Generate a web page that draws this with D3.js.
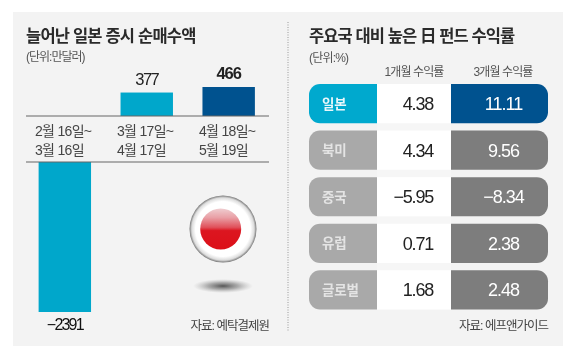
<!DOCTYPE html>
<html><head><meta charset="utf-8">
<script src="https://cdn.jsdelivr.net/npm/d3@7"></script>
<style>
html,body{margin:0;padding:0;background:#fff}
svg{display:block;filter:blur(0.5px)}
text{font-family:"Liberation Sans","Noto Sans CJK KR",sans-serif}
</style></head><body>
<svg id="c" width="580" height="361"></svg>
<script>
const periods = [["2월 16일~","3월 16일"],["3월 17일~","4월 17일"],["4월 18일~","5월 19일"]];
const flows = [-2391, 377, 466];
const flowColors = ["#00a7cb","#00a7cb","#00528f"];
const regions = ["일본","북미","중국","유럽","글로벌"];
const oneMonth = ["4.38","4.34","−5.95","0.71","1.68"];
const threeMonth = ["11.11","9.56","−8.34","2.38","2.48"];
const tableHeaders = ["1개월 수익률","3개월 수익률"];

const svg = d3.select("#c");
const defs = svg.append("defs");
const g1 = defs.append("radialGradient").attr("id","ring").attr("cx","50%").attr("cy","50%").attr("r","50%");
[[0,"#fff"],[0.82,"#fff"],[0.93,"#dcdcdc"],[1,"#777"]].forEach(d=>g1.append("stop").attr("offset",d[0]).attr("stop-color",d[1]));
const g2 = defs.append("linearGradient").attr("id","red").attr("x1",0).attr("x2",0).attr("y1",0).attr("y2",1);
[[0,"#efcdd0"],[0.22,"#e9a0a6"],[0.46,"#e0505a"],[0.54,"#dc1620"],[1,"#dc1018"]].forEach(d=>g2.append("stop").attr("offset",d[0]).attr("stop-color",d[1]));
const g3 = defs.append("radialGradient").attr("id","shadow");
[[0,"#555",1],[0.5,"#999",0.8],[1,"#bbb",0]].forEach(d=>g3.append("stop").attr("offset",d[0]).attr("stop-color",d[1]).attr("stop-opacity",d[2]));

svg.append("rect").attr("x",13).attr("y",12).attr("width",550).attr("height",334).attr("fill","#f3f3f3");
svg.append("line").attr("x1",288).attr("x2",288).attr("y1",22).attr("y2",332)
  .attr("stroke","#999").attr("stroke-width",1).attr("stroke-dasharray","1 1.5");

const txt=(x,y,s,size,o={})=>svg.append("text").attr("x",x).attr("y",y).text(s)
  .attr("font-size",size).attr("fill",o.fill||"#333").attr("font-weight",o.w||400)
  .attr("text-anchor",o.a||"start").style("letter-spacing",o.ls||null);

// left panel
txt(26,42,"늘어난 일본 증시 순매수액",16.5,{w:700,fill:"#2a2a2a",ls:"-0.8px"});
txt(26,61,"(단위:만달러)",12,{fill:"#555",ls:"-1px"});

const xBar = d3.scaleBand().domain(d3.range(flows.length)).range([25.5,268]).paddingInner(0.36).paddingOuter(0.16);
const yPos = d3.scaleLinear().domain([0,466]).range([116,87]);
const yNeg = d3.scaleLinear().domain([0,-2391]).range([162,312]);
const labelX = [35,117,199];

flows.forEach((v,i)=>{
  const top = v>=0 ? yPos(v) : yNeg(0);
  const h = v>=0 ? yPos(0)-yPos(v) : yNeg(v)-yNeg(0);
  svg.append("rect").attr("x",xBar(i)).attr("y",top).attr("width",xBar.bandwidth()).attr("height",h).attr("fill",flowColors[i]);
  const cx = xBar(i)+xBar.bandwidth()/2;
  if(v>=0) txt(cx,top-8,String(v),16.5,{a:"middle",w:i===2?700:400,fill:"#222",ls:i===2?"-1px":"-1.5px"});
  else txt(cx,yNeg(v)+18,"−"+Math.abs(v),16,{a:"middle",w:400,fill:"#111",ls:"-1.8px"});
  txt(labelX[i],136,periods[i][0],14,{fill:"#444",ls:"-0.7px"});
  txt(labelX[i],155,periods[i][1],14,{fill:"#444",ls:"-0.7px"});
});
[116,162].forEach(y=>svg.append("line").attr("x1",26).attr("x2",269).attr("y1",y).attr("y2",y).attr("stroke","#666").attr("stroke-width",1.2));

// flag
svg.append("circle").attr("cx",223).attr("cy",229).attr("r",33.5).attr("fill","url(#ring)");
svg.append("circle").attr("cx",220.7).attr("cy",229).attr("r",20.5).attr("fill","url(#red)");
svg.append("ellipse").attr("cx",223).attr("cy",286).attr("rx",30).attr("ry",7).attr("fill","url(#shadow)");
txt(269,330,"자료: 예탁결제원",12.5,{a:"end",fill:"#444",ls:"-1px"});

// right panel
txt(309,42,"주요국 대비 높은 日 펀드 수익률",16.5,{w:700,fill:"#2a2a2a",ls:"-0.9px"});
txt(309,62,"(단위:%)",12,{fill:"#555",ls:"-0.8px"});
const colCx=[414,503];
tableHeaders.forEach((t,i)=>txt(colCx[i],75.5,t,12,{a:"middle",fill:"#555",ls:"-0.9px"}));

const yRow = d3.scaleBand().domain(regions).range([84,309.5]).paddingInner(0.158).paddingOuter(0);
const xL=309,xM=377,xR=451,xE=548,r=11;
const pill=(x0,x1,y,h,leftRound,fill)=>{
  const p = leftRound
    ? `M${x1},${y}H${x0+r}A${r},${r} 0 0 0 ${x0},${y+r}V${y+h-r}A${r},${r} 0 0 0 ${x0+r},${y+h}H${x1}Z`
    : `M${x0},${y}H${x1-r}A${r},${r} 0 0 1 ${x1},${y+r}V${y+h-r}A${r},${r} 0 0 1 ${x1-r},${y+h}H${x0}Z`;
  svg.append("path").attr("d",p).attr("fill",fill);
};
svg.append("rect").attr("x",xM).attr("y",84).attr("width",xR-xM).attr("height",225.5).attr("fill","#f6f6f6");
regions.forEach((reg,i)=>{
  const y=yRow(reg),h=yRow.bandwidth(),cy=y+h/2;
  pill(xL,xM,y,h,true,i===0?"#00a9ce":"#a9a9a9");
  svg.append("rect").attr("x",xM).attr("y",y).attr("width",xR-xM).attr("height",h).attr("fill","#fff");
  pill(xR,xE,y,h,false,i===0?"#00528f":"#7d7d7d");
  txt(322,cy+5,reg,13.5,{w:700,fill:i===0?"#e8f7fb":"#e4e4e4",ls:"-0.2px"});
  txt(433,cy+6.5,oneMonth[i],18,{a:"end",fill:"#222",ls:"-1.2px"});
  txt(503.5,cy+6.5,threeMonth[i],18,{a:"middle",fill:"#fff",ls:"-1px"});
});
txt(548,330,"자료: 에프앤가이드",12.5,{a:"end",fill:"#444",ls:"-1px"});
</script>
</body></html>
